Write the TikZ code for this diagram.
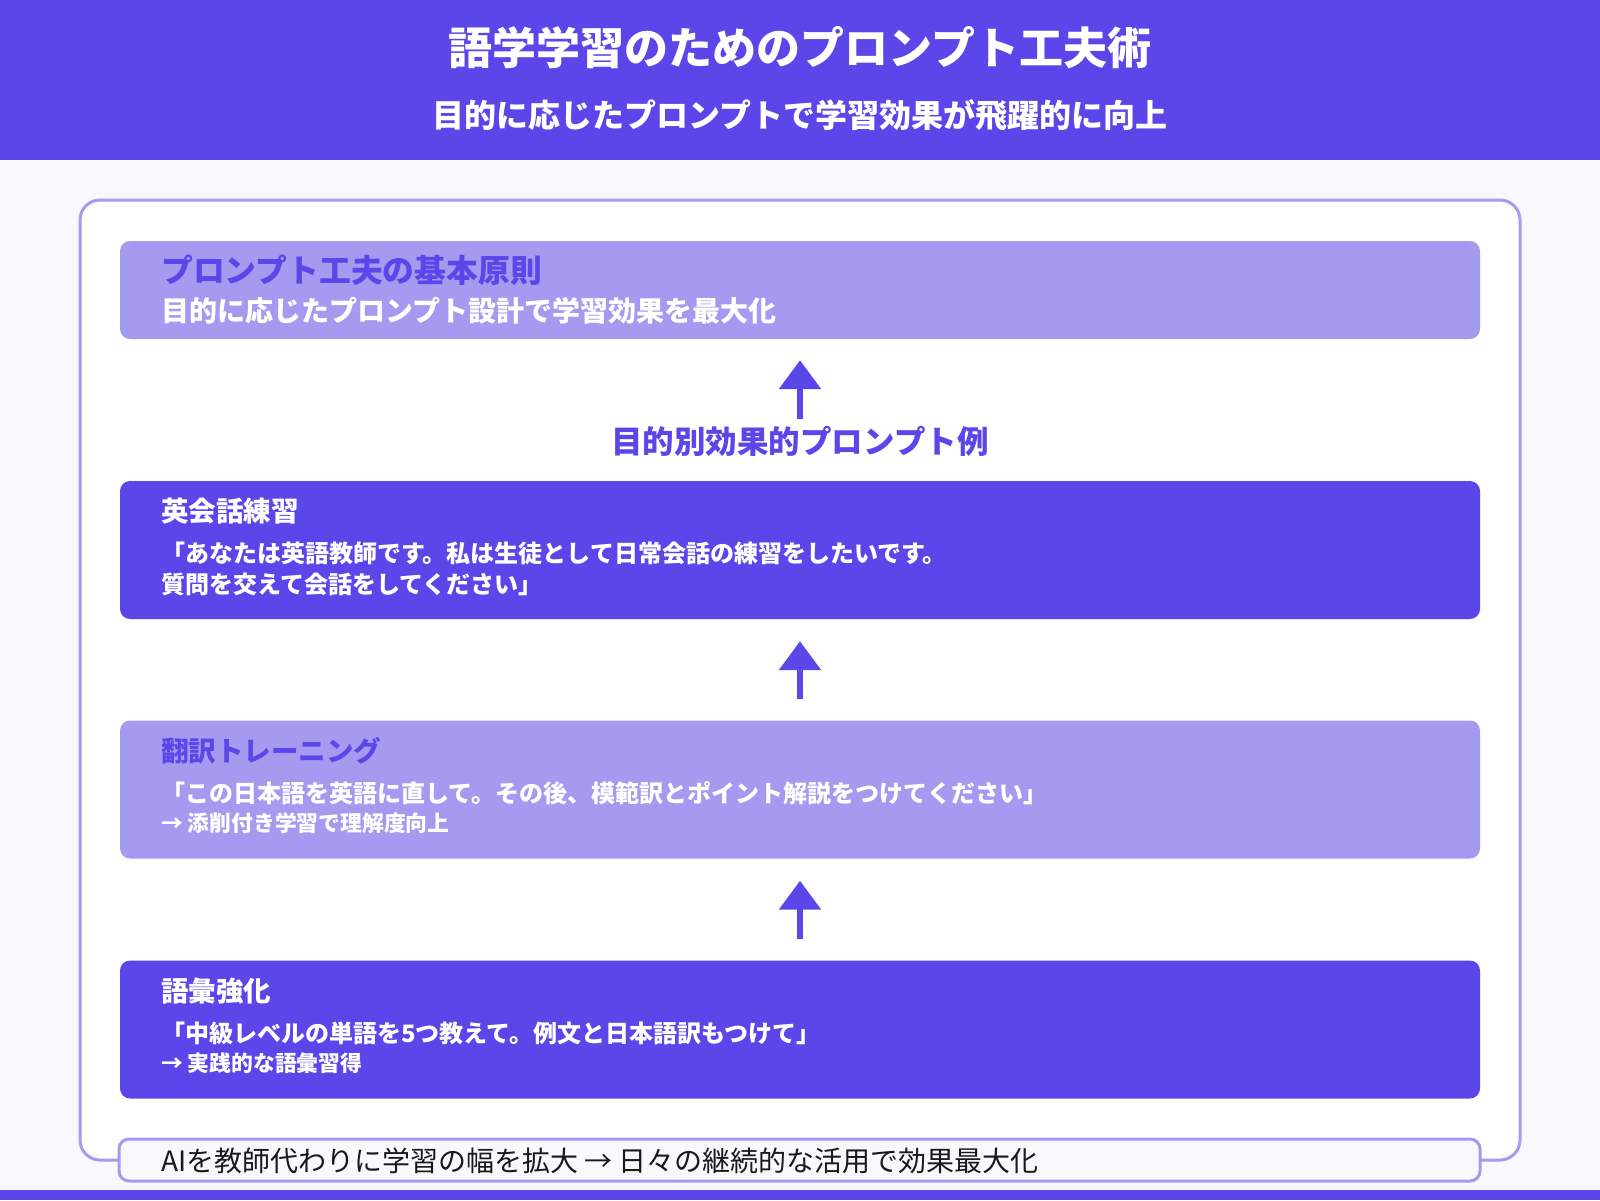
\documentclass[tikz,border=0pt]{standalone}
\usepackage{fontspec}
\setmainfont{Noto Sans CJK JP}
\usepackage{tikz}
\usetikzlibrary{arrows.meta}
\definecolor{deeppurple}{HTML}{5B46EA}
\definecolor{lavender}{HTML}{A49BF0}
\definecolor{paper}{HTML}{F9F8FE}

\begin{document}
\begin{tikzpicture}[x=1pt, y=-1pt,
    every node/.style={inner sep=0pt},
    darkbox/.style={fill=deeppurple, rounded corners=10pt, minimum width=1360pt, minimum height=138pt},
    lightbox/.style={fill=lavender, rounded corners=10pt, minimum width=1360pt, minimum height=138pt},
    boxhead/.style={anchor=west, font=\fontsize{27.5}{30}\selectfont\bfseries},
    boxline/.style={anchor=west, white, font=\fontsize{24}{26}\selectfont\bfseries},
    boxnote/.style={anchor=west, white, font=\fontsize{21.8}{24}\selectfont\bfseries},
    flow/.style={deeppurple, line width=6pt, -{Triangle[width=41pt, length=29pt]}}]
					\useasboundingbox (0,0) rectangle (1600,1200);
					\fill [paper] (0,0) rectangle (1600,1200);
					\fill [deeppurple] (0,0) rectangle (1600,160);
					\fill [deeppurple] (0,1190) rectangle (1600,1200);
					\node [white, font=\fontsize{44}{48}\selectfont\bfseries] (ttl) at (800,48) {語学学習のためのプロンプト工夫術};
					\node [white, font=\fontsize{32}{35}\selectfont\bfseries] (sub) at (800,115) {目的に応じたプロンプトで学習効果が飛躍的に向上};
					\node [draw=lavender, fill=white, line width=3pt, rounded corners=20pt, minimum width=1440pt, minimum height=960pt] (panel) at (800,680) {};
					% basic principle
					\node [lightbox, minimum height=98pt] (b1) at (800,290) {};
					\node [boxhead, deeppurple, font=\fontsize{31.8}{34}\selectfont\bfseries] (h1) at (161,270) {プロンプト工夫の基本原則};
					\node [boxline, font=\fontsize{28}{31}\selectfont\bfseries] (l1) at (161,311) {目的に応じたプロンプト設計で学習効果を最大化};
					\node [deeppurple, font=\fontsize{31.5}{34}\selectfont\bfseries] (lbl) at (800,441) {目的別効果的プロンプト例};
					% examples
					\node [darkbox] (b2) at (800,550) {};
					\node [boxhead, white] (h2) at (161,511) {英会話練習};
					\node [boxline] (l2a) at (161,553) {「あなたは英語教師です。私は生徒として日常会話の練習をしたいです。};
					\node [boxline] (l2b) at (161,584) {質問を交えて会話をしてください」};
					\node [lightbox] (b3) at (800,789.5) {};
					\node [boxhead, deeppurple] (h3) at (161,751) {翻訳トレーニング};
					\node [boxline] (l3a) at (161,793) {「この日本語を英語に直して。その後、模範訳とポイント解説をつけてください」};
					\node [boxnote] (l3b) at (161,823) {→ 添削付き学習で理解度向上};
					\node [darkbox] (b4) at (800,1029.5) {};
					\node [boxhead, white] (h4) at (161,991) {語彙強化};
					\node [boxline] (l4a) at (161,1033) {「中級レベルの単語を5つ教えて。例文と日本語訳もつけて」};
					\node [boxnote] (l4b) at (161,1063) {→ 実践的な語彙習得};
					\draw [flow, shorten <=7pt] (lbl.north) -- ([yshift=-21pt]b1.south);
					\draw [flow] ([yshift=21pt]b3.north) -- ([yshift=-22pt]b2.south);
					\draw [flow] ([yshift=21pt]b4.north) -- ([yshift=-22pt]b3.south);
					% summary
					\node [draw=lavender, fill=paper, line width=3pt, rounded corners=10pt, minimum width=1361pt, minimum height=42pt] (sum) at (799.5,1160) {};
					\node [anchor=west, black!90, font=\fontsize{28}{31}\selectfont] (st) at (161,1161) {AIを教師代わりに学習の幅を拡大 → 日々の継続的な活用で効果最大化};
				\end{tikzpicture}
\end{document}
